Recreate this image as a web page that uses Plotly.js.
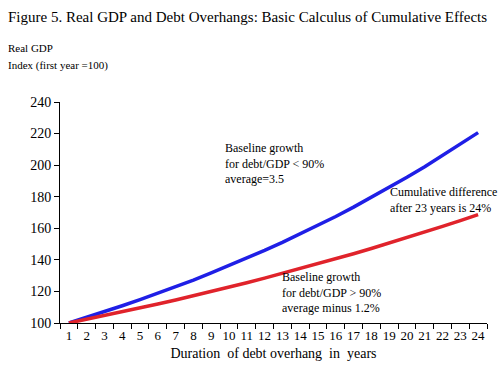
<!DOCTYPE html>
<html>
<head>
<meta charset="utf-8">
<script src="https://cdn.plot.ly/plotly-3.0.1.min.js"></script>
<style>html,body{margin:0;padding:0;background:#fff;}#chart{width:500px;height:370px;}</style>
</head>
<body>
<div id="chart"></div>
<script>
const years = ["1","2","3","4","5","6","7","8","9","10","11","12","13","14","15","16","17","18","19","20","21","22","23","24"];
const baselineBelow90 = [100,103.5,107.1,110.9,114.8,118.8,122.9,127.2,131.7,136.3,141.1,146.0,151.1,156.4,161.9,167.5,173.4,179.5,185.8,192.3,199.0,206.0,213.2,220.6];
const baselineAbove90 = [100,102.3,104.7,107.1,109.5,112.0,114.6,117.2,119.9,122.7,125.5,128.4,131.4,134.4,137.5,140.6,143.9,147.2,150.6,154.0,157.6,161.2,164.9,168.7];
const yTicks = [100,120,140,160,180,200,220,240];

const serif = "Liberation Serif, Times New Roman, serif";

const data = [
  {x: years, y: baselineBelow90, type: "scatter", mode: "lines", line: {color: "#1f1fe6", width: 3.5}, name: "< 90%"},
  {x: years, y: baselineAbove90, type: "scatter", mode: "lines", line: {color: "#e0232b", width: 3.5}, name: "> 90%"}
];

const layout = {
  width: 500, height: 370,
  margin: {l: 60, r: 13, t: 102, b: 47},
  paper_bgcolor: "#fff", plot_bgcolor: "#fff",
  showlegend: false,
  font: {family: serif, color: "#000"},
  title: {text: "Figure 5. Real GDP and Debt Overhangs: Basic Calculus of Cumulative Effects",
          font: {family: serif, size: 15, color: "#000"}, x: 0.016, xanchor: "left", y: 0.955, yanchor: "middle"},
  xaxis: {
    type: "category", tickson: "boundaries", range: [-0.5, 23.5], autorange: false,
    ticks: "outside", ticklen: 5, tickcolor: "#000", tickangle: 0,
    showline: true, linecolor: "#000", linewidth: 1, showgrid: false, zeroline: false,
    tickfont: {family: serif, size: 13, color: "#000"},
    title: {text: "Duration&nbsp; of debt overhang&nbsp; in&nbsp; years", font: {family: serif, size: 14, color: "#000"}, standoff: 6}
  },
  yaxis: {
    range: [100, 240], tickvals: yTicks, ticktext: yTicks.map(String), ticks: "outside", ticklen: 5, tickcolor: "#000",
    showline: true, linecolor: "#000", linewidth: 1, showgrid: false, zeroline: false,
    tickfont: {family: serif, size: 14, color: "#000"}
  },
  annotations: [
    {xref: "paper", yref: "paper", x: -0.122, y: 1.13, xanchor: "left", yanchor: "middle", align: "left", showarrow: false, xshift: -2, yshift: 25,
     text: "Real GDP", font: {family: serif, size: 11, color: "#000"}},
    {xref: "paper", yref: "paper", x: -0.122, y: 1.13, xanchor: "left", yanchor: "middle", align: "left", showarrow: false, xshift: -2, yshift: 8,
     text: "Index (first year =100)", font: {family: serif, size: 11, color: "#000"}},
    {xref: "x", yref: "y", x: "10", y: 201, xanchor: "left", yanchor: "middle", align: "left", showarrow: false, xshift: -24,
     text: "Baseline growth<br>for debt/GDP < 90%<br>average=3.5", font: {family: serif, size: 12, color: "#000"}},
    {xref: "x", yref: "y", x: "19", y: 178, xanchor: "left", yanchor: "middle", align: "left", showarrow: false, xshift: -19,
     text: "Cumulative difference<br>after 23 years is 24%", font: {family: serif, size: 12, color: "#000"}},
    {xref: "x", yref: "y", x: "13", y: 119.5, xanchor: "left", yanchor: "middle", align: "left", showarrow: false, xshift: -20,
     text: "Baseline growth<br>for debt/GDP > 90%<br>average minus 1.2%", font: {family: serif, size: 12, color: "#000"}}
  ]
};

Plotly.newPlot("chart", data, layout, {displayModeBar: false, staticPlot: true});
</script>
</body>
</html>
